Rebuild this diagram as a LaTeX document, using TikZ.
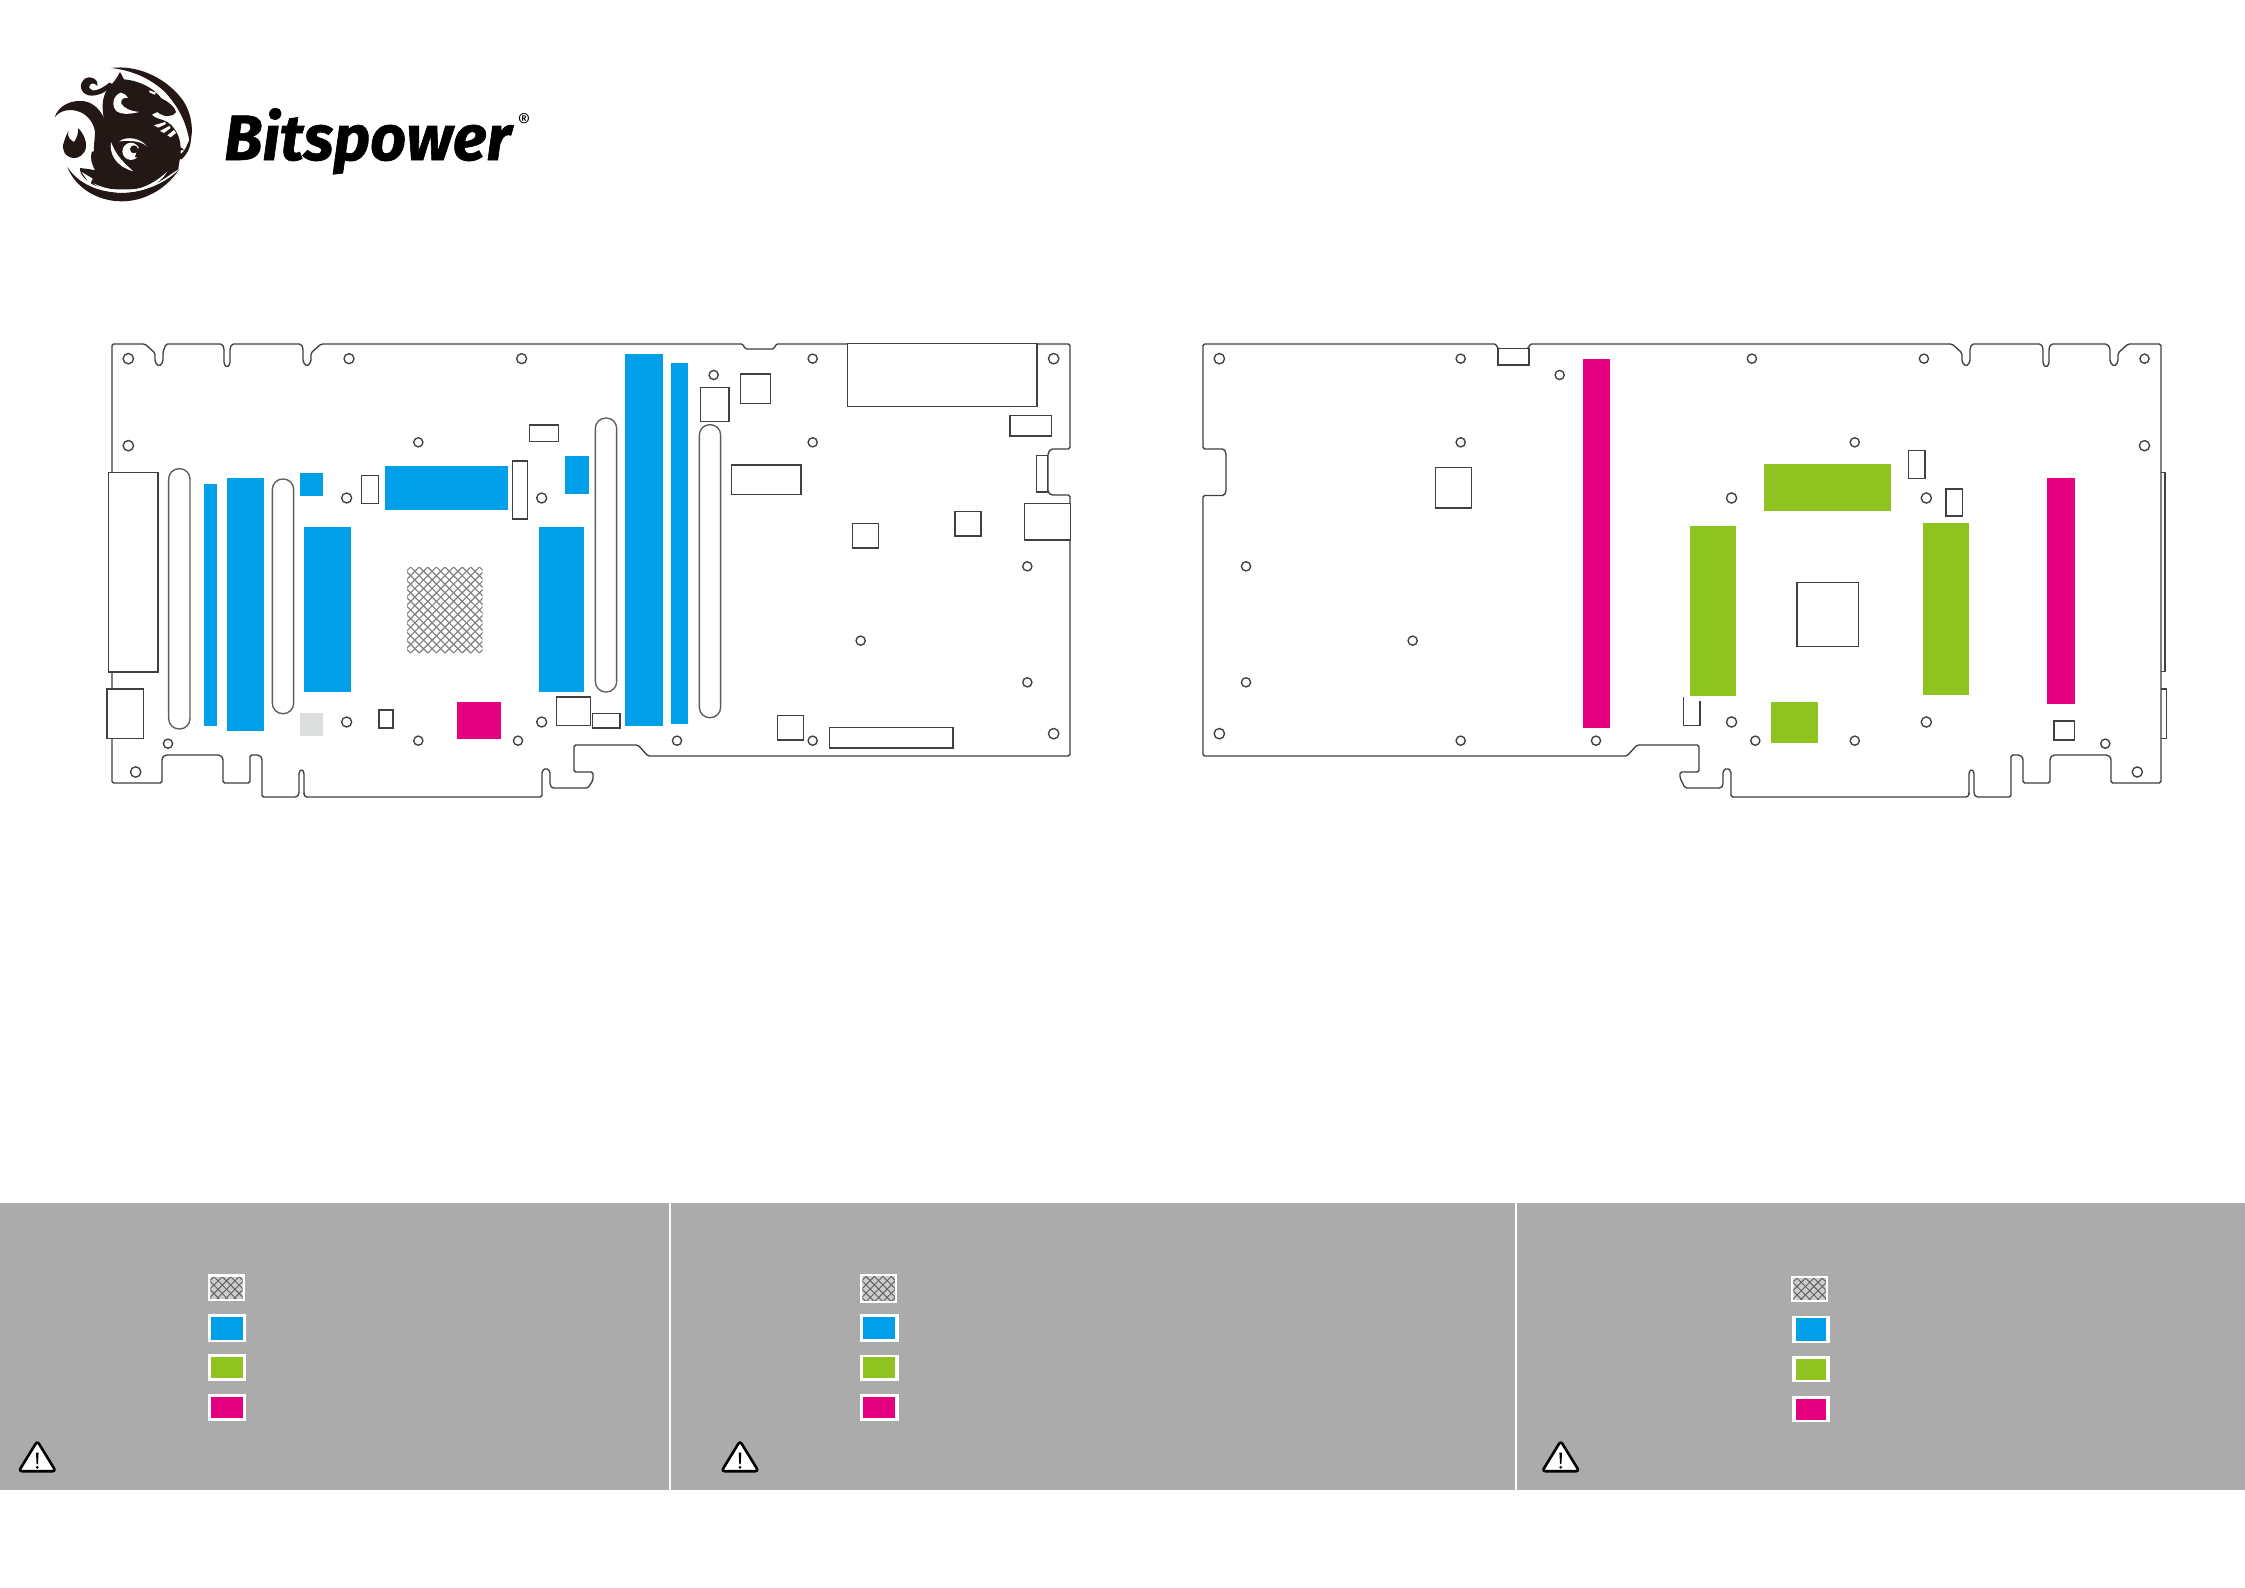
\documentclass[tikz,border=0pt]{standalone}
\usepackage{fontspec}
\newfontfamily\bpfont[BoldItalicFeatures={FakeBold=1.0}]{Fira Sans}
\definecolor{bline}{HTML}{404040}
\definecolor{cblue}{HTML}{00A0E9}
\definecolor{cgreen}{HTML}{8FC31F}
\definecolor{cmag}{HTML}{E4007F}
\definecolor{cpanel}{HTML}{ABABAB}
\definecolor{clogo}{HTML}{231815}
\definecolor{clight}{HTML}{DCDDDD}
\tikzset{
  board/.style={draw=bline,line width=1.35pt,fill=white,rounded corners=1.6pt},
  part/.style={draw=bline,line width=1.35pt,fill=white},
  slot/.style={draw=bline!85,line width=1.35pt,fill=white,rounded corners=10.4pt},
  hole/.style={draw=bline,line width=1.35pt,fill=white},
  zl/.style={shift={(90,320)},x=.33333pt,y=-.33333pt},
  zm/.style={shift={(580,320)},x=.33333pt,y=-.33333pt},
  zr/.style={shift={(1190,320)},x=.33333pt,y=-.33333pt},
  zs/.style={shift={(1650,320)},x=.34412pt,y=-.33333pt},
  zd/.style={shift={(50,62)},x=.33333pt,y=-.33333pt},
  meshl/.style={draw=black!50,line width=1.15pt},
  swl/.style={draw=black!62,line width=.95pt},
  logoink/.style={fill=clogo,draw=none},
  logowh/.style={fill=white,draw=none}
}
\newcommand{\bxp}[4]{\draw[part] (#1,#2) rectangle (#3,#4);}
\newcommand{\slt}[4]{\draw[slot] (#1,#2) rectangle (#3,#4);}
\newcommand{\fc}[5]{\fill[#1] (#2,#3) rectangle (#4,#5);}
\newcommand{\swatch}[5]{%
  \fill[white] (#2,#3) rectangle (#4,#5);
  \fill[#1] ({#2+3.4},{#3+2.7}) rectangle ({#4-3.4},{#5-2.7});}
\newcommand{\hatchsw}[4]{%
  \fill[white] (#1,#2) rectangle (#3,#4);
  \begin{scope}
    \clip ({#1+2.4},{#2+2.7}) rectangle ({#3-2.4},{#4-2.7});
    \fill[black!20] (#1,#2) rectangle (#3,#4);
    \foreach \k in {-6,...,6}{
      \draw[swl] ({(#1+#3)/2+\k*8.4-15},#2) -- ++(30,30);
      \draw[swl] ({(#1+#3)/2+\k*8.4+15},#2) -- ++(-30,30);
    }
  \end{scope}}
\newcommand{\warnsign}[1]{%
  \begin{scope}[shift={(#1,0)}]
    \draw[fill=white,draw=black,line width=2.6pt,line join=round,rounded corners=3pt]
      (17.3,1441) -- (35.8,1471.2) -- (-1.2,1471.2) -- cycle;
    \fill[black] (16,1452.5) -- (18.6,1452.5) -- (18,1464) -- (16.6,1464) -- cycle;
    \fill[black] (17.3,1467.4) circle[radius=1.5pt];
  \end{scope}}
\begin{document}
\begin{tikzpicture}[x=1pt,y=-1pt]
\useasboundingbox (0,0) rectangle (2245,1587);
\fill[white] (0,0) rectangle (2245,1587);

% logo
\begin{scope}[zd]
  % top right crescent
  \fill[logoink] (184,18) .. controls (260,8) and (345,45) .. (395,110)
     .. controls (425,150) and (432,205) .. (420,245)
     .. controls (408,175) and (385,135) .. (345,90)
     .. controls (300,48) and (245,25) .. (184,18) -- cycle;
  % bottom crescent
  \fill[logoink] (52,315) .. controls (75,375) and (140,418) .. (215,418)
     .. controls (280,418) and (345,385) .. (388,322)
     .. controls (345,365) and (280,392) .. (215,392)
     .. controls (145,392) and (85,365) .. (52,315) -- cycle;
  % body
  \fill[logoink] (210,30) -- (222,52) .. controls (262,55) and (310,75) .. (335,110)
     .. controls (355,118) and (375,135) .. (378,150)
     .. controls (365,168) and (340,165) .. (322,150)
     -- (305,158) .. controls (318,172) and (335,170) .. (352,180)
     .. controls (375,195) and (392,225) .. (392,260)
     .. controls (392,290) and (385,310) .. (385,322)
     .. controls (345,345) and (320,378) .. (240,382)
     .. controls (190,384) and (130,380) .. (105,350)
     .. controls (90,335) and (90,325) .. (90,318)
     .. controls (105,320) and (125,322) .. (135,325)
     .. controls (125,305) and (120,290) .. (125,270)
     .. controls (135,270) and (140,255) .. (145,240)
     .. controls (150,215) and (165,190) .. (160,160)
     .. controls (155,130) and (158,95) .. (178,75)
     .. controls (190,62) and (200,50) .. (210,30) -- cycle;
  % left tail
  \fill[logoink] (14,166) .. controls (25,130) and (65,112) .. (105,118)
     .. controls (140,125) and (165,160) .. (172,200)
     .. controls (175,240) and (160,270) .. (140,290)
     .. controls (125,270) and (135,240) .. (135,210)
     .. controls (132,185) and (115,160) .. (90,150)
     .. controls (60,138) and (30,145) .. (14,166) -- cycle;
  % flame
  \fill[logoink] (55,207) .. controls (50,225) and (62,235) .. (72,240)
     .. controls (80,230) and (85,215) .. (85,198)
     .. controls (100,215) and (110,235) .. (108,255)
     .. controls (105,278) and (85,290) .. (70,288)
     .. controls (45,285) and (32,262) .. (42,240)
     .. controls (45,228) and (50,218) .. (55,207) -- cycle;
  % small curl upper left
  \fill[logoink] (192,68) .. controls (170,88) and (145,105) .. (115,100)
     .. controls (90,92) and (85,65) .. (105,50)
     .. controls (125,38) and (148,55) .. (142,72)
     .. controls (135,60) and (115,62) .. (118,78)
     .. controls (125,92) and (150,85) .. (178,62) -- cycle;
  % small curl right
  \fill[logoink] (422,225) .. controls (424,245) and (418,270) .. (395,292)
     .. controls (375,292) and (360,275) .. (372,262)
     .. controls (385,252) and (400,255) .. (402,266)
     .. controls (395,260) and (385,268) .. (392,276)
     .. controls (405,270) and (412,245) .. (422,225) -- cycle;
  % white details
  \fill[logowh] (212,92) .. controls (190,100) and (182,130) .. (200,148)
     .. controls (220,160) and (245,155) .. (268,150)
     .. controls (245,148) and (222,140) .. (214,125)
     .. controls (210,112) and (222,105) .. (234,108)
     .. controls (228,98) and (220,92) .. (212,92) -- cycle;
  \fill[logowh] (298,85) -- (318,92) -- (314,98) -- (298,91) -- cycle;
  \fill[logowh] (312,190) -- (345,180) -- (348,186) -- (325,197) -- cycle;
  \fill[logowh] (330,207) -- (358,192) -- (362,198) -- (342,213) -- cycle;
  \fill[logowh] (352,220) -- (372,204) -- (378,213) -- (362,226) -- cycle;
  \fill[logowh] (183,240) .. controls (178,275) and (195,312) .. (250,328)
     .. controls (225,305) and (200,285) .. (183,240) -- cycle;
  % spiral
  \fill[logowh] (208,238) .. controls (228,222) and (272,226) .. (292,255)
     .. controls (280,240) and (250,234) .. (208,238) -- cycle;
  \fill[logowh] (243,268) circle[radius=8.6pt];
  \fill[logoink] (252,262) circle[radius=4pt];
  \fill[logoink] (262,262) -- (275,250) -- (275,290) -- (255,285) -- cycle;
  \fill[logowh] (95,330) -- (128,350) -- (120,368) -- cycle;
  \fill[logowh] (130,364) .. controls (170,384) and (220,390) .. (265,380)
     .. controls (300,370) and (330,350) .. (352,328)
     .. controls (330,368) and (280,392) .. (215,392)
     .. controls (180,392) and (150,380) .. (130,364) -- cycle;
\end{scope}
\node[anchor=base west,inner sep=0pt,font={\bpfont\bfseries\itshape\fontsize{64}{64}\selectfont},xscale=0.985] (brand) at (224,160) {Bitspower};
\node[inner sep=0pt,font={\bpfont\fontsize{20}{20}\selectfont}] (reg) at (524,121) {®};

% left board outline
\draw[board] (112,344) -- (145,344) -- (155,353) -- (155,362) -- (159,366.5) -- (163,362) -- (163,352) -- (166,344)
 -- (222,344) -- (224,348) -- (224,364) -- (227,367.5) -- (230,364) -- (230,348) -- (232,344)
 -- (301,344) -- (303,348) -- (303,362) -- (307,366.5) -- (311,362) -- (311,353) -- (321,344)
 -- (743,344) -- (745,349) -- (774,349) -- (776,344) -- (1070,344) -- (1070,449)
 -- (1051,449) -- (1048,453) -- (1048,492) -- (1051,495) -- (1070,495) -- (1070,756)
 -- (648,756) -- (638,745) -- (574,745) -- (574,772) -- (593,772) -- (593,780) -- (588,788)
 -- (552,788) -- (550,785) -- (550,771) -- (546,768) -- (542,771) -- (542,797)
 -- (305,797) -- (304,794) -- (304,772) -- (301.5,769) -- (299,772) -- (299,794) -- (297,797)
 -- (262,797) -- (262,758) -- (259,755) -- (250,755) -- (250,783) -- (223,783) -- (223,758) -- (220,755)
 -- (165,755) -- (162,758) -- (162,783) -- (112,783) -- cycle;

\begin{scope}[zl]
  \bxp{55}{458}{204}{1056}
  \bxp{51}{1107}{160}{1255}
  \slt{236}{446}{300}{1227}
  \slt{547}{477}{611}{1181}
  \fc{cblue}{342}{493}{382}{1218}
  \fc{cblue}{410}{473}{521}{1233}
  \fc{cblue}{630}{458}{698}{528}
  \fc{cblue}{886}{437}{1254}{569}
  \fc{cblue}{1426}{409}{1498}{521}
  \fc{cblue}{642}{621}{782}{1117}
  \fc{cblue}{1346}{621}{1482}{1117}
  \fc{clight}{630}{1178}{698}{1249}
  \fc{cmag}{1102}{1146}{1234}{1257}
  \bxp{815}{467}{865}{551}
  \bxp{1267}{423}{1313}{597}
  \bxp{1319}{315}{1405}{364}
  \bxp{867}{1170}{909}{1224}
  \bxp{1400}{1131}{1501}{1216}
  \bxp{1507}{1180}{1590}{1224}
  \foreach \x/\y in {115/116,115/377,137/1356}{\draw[hole] (\x,\y) circle[radius=5.2pt];}
  \foreach \x/\y in {777/116,1295/116,770/534,1355/534,770/1206,1355/1206}{\draw[hole] (\x,\y) circle[radius=5pt];}
  \foreach \x/\y in {985/367,234/1271,985/1262,1284/1262}{\draw[hole] (\x,\y) circle[radius=4.6pt];}
\end{scope}
% mesh
\begin{scope}
  \clip (407,567.3) rectangle (482.7,653.3);
  \foreach \k in {-11,...,11}{
    \draw[meshl] ({445+\k*8.6-43},567) -- ++(86,86);
    \draw[meshl] ({445+\k*8.6+43},567) -- ++(-86,86);
  }
\end{scope}
\begin{scope}[zm]
  \slt{46}{294}{110}{1116}
  \fc{cblue}{136}{101}{248}{1217}
  \fc{cblue}{272}{129}{324}{1213}
  \slt{358}{314}{422}{1193}
  \bxp{362}{203}{447}{304}
  \bxp{481}{162}{571}{251}
  \bxp{802}{71}{1371}{259}
  \bxp{1290}{287}{1415}{348}
  \bxp{454}{435}{663}{523}
  \bxp{1370}{407}{1402}{516}
  \bxp{1334}{551}{1471}{660}
  \bxp{818}{611}{895}{684}
  \bxp{1125}{575}{1203}{648}
  \bxp{593}{1187}{671}{1260}
  \bxp{749}{1223}{1119}{1284}
  \foreach \x/\y in {1421/116,1421/1241}{\draw[hole] (\x,\y) circle[radius=5.2pt];}
  \foreach \x/\y in {698/116,698/367,698/1262,401/165,1342/739,842/962,1342/1087,291/1262}{\draw[hole] (\x,\y) circle[radius=4.6pt];}
\end{scope}

% right board outline
\draw[board] (1203,344) -- (1496,344) -- (1498,349) -- (1528,349) -- (1530,344) -- (1952,344)
 -- (1962,353) -- (1962,362) -- (1966,366.5) -- (1970,362) -- (1970,348) -- (1972,344)
 -- (2041,344) -- (2043,348) -- (2043,364) -- (2046,367.5) -- (2049,364) -- (2049,348) -- (2051,344)
 -- (2107,344) -- (2110,348) -- (2110,362) -- (2114,366.5) -- (2118,362) -- (2118,353) -- (2128,344)
 -- (2161,344) -- (2161,783) -- (2111,783) -- (2111,758) -- (2108,755) -- (2053,755) -- (2050,758) -- (2050,783)
 -- (2023,783) -- (2023,758) -- (2020,755) -- (2011,755) -- (2011,797)
 -- (1976,797) -- (1974,794) -- (1974,772) -- (1971.5,769) -- (1969,772) -- (1969,794) -- (1968,797)
 -- (1731,797) -- (1731,771) -- (1727,768) -- (1723,771) -- (1723,785) -- (1721,788)
 -- (1685,788) -- (1680,778) -- (1680,772) -- (1699,772) -- (1699,745) -- (1637,745) -- (1627,756)
 -- (1203,756) -- (1203,495.5) -- (1224,495.5) -- (1226,492) -- (1226,453) -- (1224,449) -- (1203,449) -- cycle;

\begin{scope}[zr]
  \bxp{924}{86}{1017}{135}
  \bxp{736}{443}{845}{564}
  \fc{cmag}{1179}{117}{1259}{1225}
  \foreach \x/\y in {88/116,88/1241}{\draw[hole] (\x,\y) circle[radius=5.2pt];}
  \foreach \x/\y in {812/116,1109/165,812/367,168/739,668/962,168/1087,812/1262,1218/1262}{\draw[hole] (\x,\y) circle[radius=4.6pt];}
\end{scope}
\begin{scope}[zs]
  \fc{cgreen}{332}{433}{700}{573}
  \fc{cgreen}{115}{618}{251}{1129}
  \fc{cgreen}{793}{610}{928}{1125}
  \fc{cgreen}{351}{1146}{487}{1270}
  \fc{cmag}{1153}{473}{1234}{1153}
  \bxp{427}{787}{606}{980}
  \bxp{751}{391}{799}{476}
  \bxp{860}{507}{908}{588}
  \bxp{1174}{1203}{1233}{1260}
  \draw[draw=bline,line width=1.35pt] (97,1130) -- (97,1217) -- (145,1217) -- (145,1142);
  \draw[draw=bline,line width=1.35pt] (1485,458) -- (1497,458) -- (1497,1055) -- (1485,1055);
  \draw[draw=bline,line width=1.35pt] (1485,1107) -- (1500,1107) -- (1500,1255) -- (1485,1255);
  \foreach \x/\y in {1437/377,1416/1356,237/534,803/534,237/1206,803/1206}{\draw[hole] (\x,\y) circle[radius=5.1pt];}
  \foreach \x/\y in {296/116,796/116,1437/116,595/367,306/1262,595/1262,1323/1271}{\draw[hole] (\x,\y) circle[radius=4.6pt];}
\end{scope}

% panels
\fill[cpanel] (0,1202.7) rectangle (668.6,1490);
\fill[cpanel] (671,1202.7) rectangle (1515,1490);
\fill[cpanel] (1517.4,1202.7) rectangle (2245,1490);

\hatchsw{208}{1274.3}{245}{1301}
\swatch{cblue}{208}{1314.3}{246.4}{1342.3}
\swatch{cgreen}{208}{1354.3}{246.4}{1381}
\swatch{cmag}{208}{1394.3}{246.4}{1421}
\warnsign{20}

\hatchsw{860}{1274}{897.3}{1302.7}
\swatch{cblue}{860}{1314}{898.7}{1342}
\swatch{cgreen}{860}{1354.7}{898.7}{1380.7}
\swatch{cmag}{860}{1394.3}{898.7}{1421}
\warnsign{722.7}

\hatchsw{1791}{1275.7}{1828.3}{1302.3}
\swatch{cblue}{1792.3}{1315.7}{1829.7}{1343.3}
\swatch{cgreen}{1792.3}{1356}{1829.7}{1382.3}
\swatch{cmag}{1792.3}{1396}{1829.7}{1422.3}
\warnsign{1543.4}
\end{tikzpicture}
\end{document}
